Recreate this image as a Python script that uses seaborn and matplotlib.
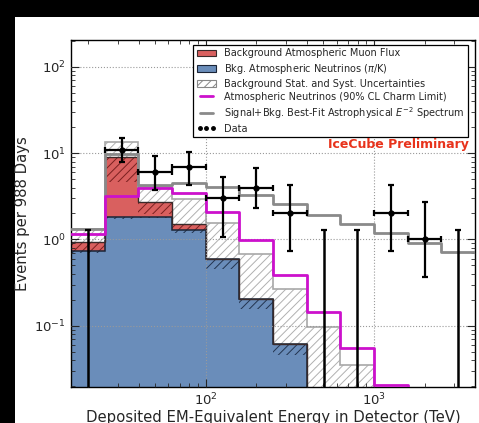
import numpy as np
import matplotlib
matplotlib.use("Agg")
import matplotlib.pyplot as plt
import seaborn as sns
import pandas as pd
from matplotlib.patches import Patch, Rectangle
from matplotlib.lines import Line2D

# ---------------- data ----------------
log_edges = [1.2, 1.4, 1.6, 1.8, 2.0, 2.2, 2.4, 2.6, 2.8, 3.0, 3.2, 3.4, 3.6]
# atmospheric neutrinos (pi/K): band lower / upper
nu_lo = [0.69, 1.72, 1.75, 1.18, 0.45, 0.155, 0.046, 0.009, 0.003, 0.001, 0.0005, 0.0002]
nu_hi = [0.74, 1.81, 1.84, 1.29, 0.60, 0.202, 0.061, 0.012, 0.004, 0.0012, 0.0006, 0.0003]
# atmospheric muons (stacked total): band lower / upper
mu_lo = [0.74, 4.67, 1.97, 1.29, 0.60, 0.202, 0.061, 0.012, 0.004, 0.0012, 0.0006, 0.0003]
mu_hi = [0.94, 9.1, 2.70, 1.51, 0.60, 0.202, 0.061, 0.012, 0.004, 0.0012, 0.0006, 0.0003]
# background stat + syst uncertainty upper edge
bkg_hi = [1.33, 13.4, 4.1, 2.95, 1.54, 0.67, 0.265, 0.098, 0.035, 0.012, 0.004, 0.001]
# atmospheric neutrinos incl. 90% CL charm limit
charm = [1.15, 3.19, 3.92, 3.49, 2.10, 0.99, 0.39, 0.146, 0.055, 0.0205, 0.001, 0.001]
# signal + background best fit E^-2
signal = [1.31, 9.7, 4.3, 4.55, 4.06, 3.3, 2.6, 1.92, 1.52, 1.19, 0.92, 0.72]
# data counts and 68% intervals
counts = [0, 11, 6, 7, 3, 4, 2, 0, 0, 2, 1, 0]
err_low = [0, 7.8, 3.75, 4.3, 1.08, 2.33, 0.74, 0, 0, 0.74, 0.37, 0]
err_high = [1.29, 14.8, 9.3, 10.4, 5.33, 6.8, 4.28, 1.29, 1.29, 4.28, 2.74, 1.29]

labels = ["Background Atmospheric Muon Flux",
          r"Bkg. Atmospheric Neutrinos ($\pi$/K)",
          "Background Stat. and Syst. Uncertainties",
          "Atmospheric Neutrinos (90% CL Charm Limit)",
          r"Signal+Bkg. Best-Fit Astrophysical $E^{-2}$ Spectrum",
          "Data"]

# ---------------- styling ----------------
sns.set_style("ticks")
plt.rcParams["font.family"] = ["DejaVu Sans"]
plt.rcParams["hatch.linewidth"] = 0.7
plt.rcParams["mathtext.fontset"] = "dejavusans"

RED = "#d9605f"
BLUE = "#6a8dba"
MAG = "#cc11cc"
GRAY = "#8a8a8a"

edges = 10 ** np.array(log_edges)
centers = 10 ** ((np.array(log_edges[:-1]) + np.array(log_edges[1:])) / 2)
base = 1e-4

fig = plt.figure(figsize=(4.79, 4.23), dpi=100)
fig.patches.append(Rectangle((0, 1 - 17 / 423), 1, 17 / 423, transform=fig.transFigure,
                             facecolor="black", edgecolor="none", zorder=-10))
fig.patches.append(Rectangle((0, 0), 15 / 479, 1, transform=fig.transFigure,
                             facecolor="black", edgecolor="none", zorder=-10))
ax = fig.add_axes([71 / 479, (423 - 387) / 423, (475 - 71) / 479, (387 - 40) / 423])
ax.set_xscale("log")
ax.set_yscale("log")

# blue atmospheric neutrino fill
ax.stairs(nu_hi, edges, baseline=base, fill=True, facecolor=BLUE, edgecolor="none", zorder=1)
ax.stairs(nu_hi, edges, baseline=nu_lo, fill=True, facecolor="none", edgecolor="#23344f",
          hatch="////", lw=0, zorder=1.1)
ax.stairs(nu_hi, edges, baseline=None, color="#1a2436", lw=1.1, zorder=1.2)
# red muon fill
ax.stairs(mu_hi, edges, baseline=nu_hi, fill=True, facecolor=RED, edgecolor="none", zorder=1)
ax.stairs(mu_hi, edges, baseline=mu_lo, fill=True, facecolor="none", edgecolor="#7a2020",
          hatch="////", lw=0, zorder=1.1)
ax.stairs(mu_hi, edges, baseline=None, color="#3a2a2a", lw=1.0, zorder=1.2)
# background uncertainty band
ax.stairs(bkg_hi, edges, baseline=mu_hi, fill=True, facecolor="none", edgecolor="#b0b0b0",
          hatch="////", lw=0, zorder=1.05)
ax.stairs(bkg_hi, edges, baseline=None, color="#a8a8a8", lw=1.2, zorder=1.3)

# step lines via seaborn
df_c = pd.DataFrame({"E": edges, "v": charm + [charm[-1]]})
df_s = pd.DataFrame({"E": edges, "v": signal + [signal[-1]]})
sns.lineplot(data=df_s, x="E", y="v", drawstyle="steps-post", color=GRAY, lw=2,
             estimator=None, ax=ax, zorder=3)
sns.lineplot(data=df_c, x="E", y="v", drawstyle="steps-post", color=MAG, lw=2,
             estimator=None, ax=ax, zorder=3)

# data points
cnt = np.array(counts, float)
lo = np.array(err_low)
hi = np.array(err_high)
nz = cnt > 0
z = ~nz
xl = centers - edges[:-1]
xr = edges[1:] - centers
ax.errorbar(centers[nz], cnt[nz], yerr=[cnt[nz] - lo[nz], hi[nz] - cnt[nz]],
            xerr=[xl[nz], xr[nz]], fmt="o", ms=3.5, color="k", elinewidth=1.6,
            capsize=2.5, capthick=1.6, zorder=6)
ax.errorbar(centers[z], hi[z], yerr=[hi[z] - base, np.zeros(z.sum())], fmt="none",
            ecolor="k", elinewidth=1.8, capsize=2.5, capthick=1.6, zorder=6)

ax.set_xlim(edges[0], edges[-1])
ax.set_ylim(0.0195, 205)
ax.grid(True, which="major", ls=":", color="#9a9a9a", lw=0.8)
ax.set_axisbelow(False)
ax.tick_params(which="both", direction="in", top=True, right=True, labelsize=9.5)
ax.tick_params(which="major", length=6, width=0.8)
ax.tick_params(which="minor", length=3, width=0.6)
for s in ax.spines.values():
    s.set_linewidth(1.0)
    s.set_color("black")

ax.set_ylabel("Events per 988 Days", fontsize=10.7, labelpad=3)
ax.set_xlabel("Deposited EM-Equivalent Energy in Detector (TeV)", fontsize=10.7, labelpad=1)

handles = [Patch(facecolor=RED, edgecolor="#3a2a2a", lw=0.8),
           Patch(facecolor=BLUE, edgecolor="#1a2436", lw=0.8),
           Patch(facecolor="white", edgecolor="#888888", hatch="////", lw=0.8),
           Line2D([], [], color=MAG, lw=2),
           Line2D([], [], color=GRAY, lw=2),
           Line2D([], [], color="k", marker="o", ms=2.5, ls="")]
leg = ax.legend(handles, labels, loc="upper right", fontsize=7, numpoints=3,
                bbox_to_anchor=((468 - 71) / 404, (387 - 45) / 347),
                bbox_transform=ax.transAxes, borderaxespad=0,
                fancybox=False, framealpha=1, edgecolor="black",
                handlelength=2.0, labelspacing=0.32, borderpad=0.35)
leg.get_frame().set_linewidth(0.9)
leg.set_zorder(20)

ax.text(0.985, 0.70, "IceCube Preliminary", transform=ax.transAxes, ha="right",
        va="center", color="#e8331c", fontsize=9, fontweight="bold", zorder=21)

fig.savefig("out.png", dpi=100)
